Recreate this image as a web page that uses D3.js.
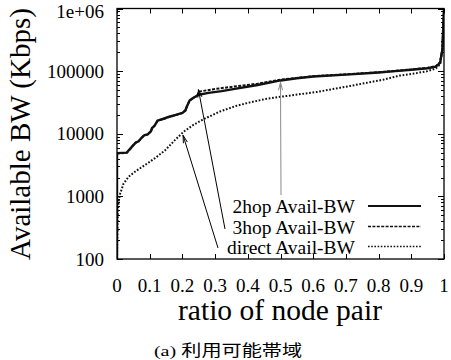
<!DOCTYPE html>
<html>
<head>
<meta charset="utf-8">
<script src="https://cdn.jsdelivr.net/npm/d3@7"></script>
<style>
  html, body { margin: 0; padding: 0; background: #fff; }
  svg { display: block; }
</style>
</head>
<body>
<script>
// Axis ticks
const xTickValues = [0, 0.1, 0.2, 0.3, 0.4, 0.5, 0.6, 0.7, 0.8, 0.9, 1];
const xTickLabels = ["0", "0.1", "0.2", "0.3", "0.4", "0.5", "0.6", "0.7", "0.8", "0.9", "1"];
const yTickValues = [100, 1000, 10000, 100000, 1000000];
const yTickLabels = ["100", "1000", "10000", "100000", "1e+06"];

// Series names (legend order)
const seriesNames = ["2hop Avail-BW", "3hop Avail-BW", "direct Avail-BW"];

// 2hop available bandwidth (Kbps) vs ratio of node pair
const ratio2hop = [0, 0, 0.03, 0.034, 0.042, 0.05, 0.058, 0.062, 0.066, 0.074, 0.084, 0.094, 0.104, 0.107, 0.115, 0.124, 0.14, 0.16, 0.18, 0.2, 0.209, 0.214, 0.222, 0.235, 0.25, 0.28, 0.32, 0.36, 0.43, 0.5, 0.55, 0.6, 0.7, 0.8, 0.85, 0.9, 0.95, 0.975, 0.988, 0.995, 1];
const bw2hop    = [100, 4900, 5000, 5300, 5900, 6600, 7300, 7400, 7600, 8500, 9500, 9800, 11000, 12300, 13500, 16200, 17200, 18700, 20000, 21500, 23500, 27500, 34000, 38000, 42000, 45000, 48000, 52000, 60000, 71000, 77000, 82000, 88000, 95000, 100000, 105000, 111000, 118000, 135000, 220000, 1000000];

// 3hop available bandwidth
const ratio3hop = [0, 0, 0.03, 0.034, 0.042, 0.05, 0.058, 0.066, 0.074, 0.084, 0.094, 0.104, 0.107, 0.115, 0.124, 0.14, 0.16, 0.18, 0.2, 0.209, 0.214, 0.222, 0.235, 0.245, 0.25, 0.3, 0.35, 0.43, 0.5, 0.6, 0.7, 0.8, 0.85, 0.9, 0.95, 0.975, 0.988, 0.995, 1];
const bw3hop    = [100, 4850, 4950, 5250, 5850, 6550, 7250, 7550, 8450, 9450, 9750, 10900, 12200, 13400, 16100, 17100, 18600, 19900, 21400, 23400, 27400, 33800, 37800, 40000, 47000, 52000, 56000, 63000, 73000, 83000, 89000, 96000, 101000, 106000, 113000, 120000, 138000, 230000, 1000000];

// direct available bandwidth
const ratioDirect = [0, 0.002, 0.005, 0.01, 0.02, 0.036, 0.056, 0.087, 0.117, 0.148, 0.178, 0.204, 0.235, 0.264, 0.315, 0.366, 0.407, 0.45, 0.509, 0.611, 0.713, 0.814, 0.865, 0.9, 0.95, 0.975, 0.988, 0.995, 1];
const bwDirect    = [100, 500, 830, 1120, 1600, 2070, 2500, 3200, 4100, 5500, 8000, 10800, 14000, 17000, 22700, 28000, 31700, 35500, 39500, 46500, 58000, 73000, 85000, 90000, 100000, 110000, 128000, 220000, 1000000];

// Arrow targets (ratio, bandwidth) pointing from each legend label to its curve
const arrowRatio = [0.5, 0.249, 0.202];
const arrowBW    = [66000, 50600, 9460];

const W = 451, H = 360;
const plotL = 117, plotR = 444, plotT = 8.5, plotB = 259;
const serif = "'Liberation Serif', 'Times New Roman', serif";

const svg = d3.select("body").append("svg")
  .attr("width", W).attr("height", H)
  .attr("viewBox", `0 0 ${W} ${H}`);

const x = d3.scaleLinear().domain([0, 1]).range([plotL, plotR]);
const y = d3.scaleLog().domain([100, 1000000]).range([plotB, plotT]);

svg.append("defs").append("clipPath").attr("id", "plotclip")
  .append("rect")
  .attr("x", plotL).attr("y", plotT)
  .attr("width", plotR - plotL).attr("height", plotB - plotT);

// Ticks: inward on all four sides, log minors on y
const tickG = svg.append("g").attr("stroke", "#000").attr("stroke-width", 1);
xTickValues.forEach(v => {
  const px = Math.round(x(v)) + 0.5;
  tickG.append("line").attr("x1", px).attr("x2", px).attr("y1", plotB).attr("y2", plotB - 5);
  tickG.append("line").attr("x1", px).attr("x2", px).attr("y1", plotT).attr("y2", plotT + 5);
});
const yAll = [];
for (let d = 100; d < 1000000; d *= 10) {
  for (let k = 1; k <= 9; k++) yAll.push(d * k);
}
yAll.push(1000000);
yAll.forEach(v => {
  const major = yTickValues.includes(v);
  const len = major ? 6 : 3;
  const py = Math.round(y(v)) + 0.5;
  tickG.append("line").attr("x1", plotL).attr("x2", plotL + len).attr("y1", py).attr("y2", py);
  tickG.append("line").attr("x1", plotR).attr("x2", plotR - len).attr("y1", py).attr("y2", py);
});

// Tick labels
const labelG = svg.append("g").attr("font-family", serif).attr("font-size", 19).attr("fill", "#000");
xTickValues.forEach((v, i) => {
  labelG.append("text").attr("x", x(v)).attr("y", 292)
    .attr("text-anchor", "middle").text(xTickLabels[i]);
});
yTickValues.forEach((v, i) => {
  labelG.append("text").attr("x", 104).attr("y", Math.max(y(v) + 6.5, 17.5))
    .attr("text-anchor", "end").text(yTickLabels[i]);
});

// Curves
const line = d3.line().x(d => x(d[0])).y(d => y(d[1]));
const curveG = svg.append("g").attr("clip-path", "url(#plotclip)").attr("fill", "none");
const series = [
  { r: ratioDirect, v: bwDirect, dash: "1.7,1.7", w: 2 },
  { r: ratio3hop, v: bw3hop, dash: "3,1.4", w: 2 },
  { r: ratio2hop, v: bw2hop, dash: null, w: 2.4 }
];
series.forEach(s => {
  curveG.append("path")
    .datum(s.r.map((r, i) => [r, s.v[i]]))
    .attr("d", line)
    .attr("stroke", "#111")
    .attr("stroke-width", s.w)
    .attr("stroke-dasharray", s.dash)
    .attr("stroke-linejoin", "round");
});

// Frame
svg.append("rect")
  .attr("x", plotL).attr("y", plotT)
  .attr("width", plotR - plotL).attr("height", plotB - plotT)
  .attr("fill", "none").attr("stroke", "#000").attr("stroke-width", 1.3);

// Legend (labels right-aligned, sample lines on the right)
const legendRowY = [206, 226.5, 246.5];
const legendStyles = [
  { dash: null, w: 2 },
  { dash: "3,1.4", w: 1.7 },
  { dash: "1.6,1.6", w: 1.6 }
];
seriesNames.forEach((name, i) => {
  svg.append("text")
    .attr("x", 355).attr("y", legendRowY[i] + 7)
    .attr("text-anchor", "end")
    .attr("font-family", serif).attr("font-size", 19.5)
    .text(name);
  svg.append("line")
    .attr("x1", 368).attr("x2", 421)
    .attr("y1", legendRowY[i]).attr("y2", legendRowY[i])
    .attr("stroke", "#111").attr("stroke-width", legendStyles[i].w)
    .attr("stroke-dasharray", legendStyles[i].dash);
});

// Arrows from legend labels to curves
const arrowTails = [[281, 195], [225, 229], [218, 248]];
const arrowColors = ["#8a8a8a", "#000", "#000"];
arrowTails.forEach((t, i) => {
  const tip = [x(arrowRatio[i]), y(arrowBW[i])];
  const g = svg.append("g").attr("stroke", arrowColors[i]).attr("stroke-width", 1).attr("fill", "none");
  g.append("line").attr("x1", t[0]).attr("y1", t[1]).attr("x2", tip[0]).attr("y2", tip[1]);
  const ang = Math.atan2(t[1] - tip[1], t[0] - tip[0]);
  const len = 8, spread = 0.26;
  const p1 = [tip[0] + len * Math.cos(ang + spread), tip[1] + len * Math.sin(ang + spread)];
  const p2 = [tip[0] + len * Math.cos(ang - spread), tip[1] + len * Math.sin(ang - spread)];
  g.append("path").attr("d", `M${p1[0]},${p1[1]}L${tip[0]},${tip[1]}L${p2[0]},${p2[1]}`);
});

// Axis titles
svg.append("text")
  .attr("x", 280).attr("y", 320)
  .attr("text-anchor", "middle")
  .attr("font-family", serif).attr("font-size", 29.5)
  .text("ratio of node pair");
svg.append("text")
  .attr("transform", "translate(30,134) rotate(-90)")
  .attr("text-anchor", "middle")
  .attr("font-family", serif).attr("font-size", 29)
  .text("Available BW (Kbps)");

// Caption
const cap = svg.append("text")
  .attr("transform", "translate(228,356) scale(1.3,1)")
  .attr("text-anchor", "middle")
  .attr("font-size", 15.5);
cap.append("tspan").attr("font-family", serif).text("(a) ");
cap.append("tspan").attr("font-family", "'Noto Sans CJK JP', sans-serif").text("利用可能帯域");
</script>
</body>
</html>
